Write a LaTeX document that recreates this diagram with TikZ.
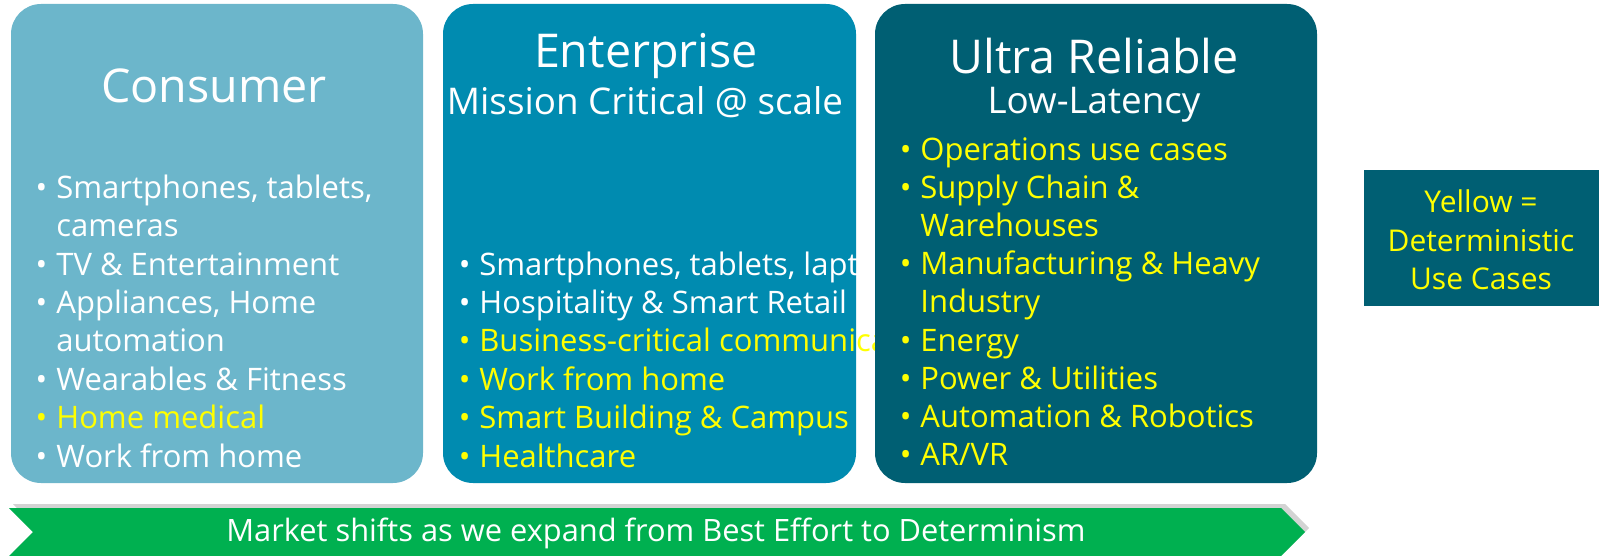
\documentclass[tikz,border=0pt]{standalone}
\usepackage{fontspec}
\setmainfont{Open Sans}
\usetikzlibrary{positioning}
\usetikzlibrary{shadows}

\definecolor{consumer}{HTML}{6CB6CB}
\definecolor{enterprise}{HTML}{008BB0}
\definecolor{urllc}{HTML}{005F73}
\definecolor{shiftgreen}{HTML}{00B050}
\definecolor{detyellow}{HTML}{FFFF00}

\tikzset{
  panel/.style={rounded corners=15pt},
  ttl/.style={anchor=base, inner sep=0pt, text=white, font=\fontsize{23.3}{28}\selectfont},
  sub/.style={anchor=base, inner sep=0pt, text=white, font=\fontsize{18.4}{22}\selectfont},
  item/.style={anchor=base west, inner sep=0pt, text=white, font=\fontsize{15.5}{19}\selectfont},
  det/.style={item, text=detyellow},
  note/.style={anchor=base, inner sep=0pt, text=detyellow, font=\fontsize{15}{19}\selectfont},
}
% bullet hanging left of the item text
\newcommand{\bul}{\llap{\textbullet\hspace{4.5pt}}}

\begin{document}
\begin{tikzpicture}[x=0.5pt, y=-0.5pt]
  \useasboundingbox (0,0) rectangle (1599,556);

  % Consumer column
  \fill[panel, consumer] (11,4) rectangle (423,483);
  \node[ttl] (consumer) at (214,103) {Consumer};
  \node[item] (c1) at (56,198) {\bul Smartphones, tablets,};
  \node[item] (c2) at (56,236) {cameras};
  \node[item] (c3) at (56,275) {\bul TV \& Entertainment};
  \node[item] (c4) at (56,313) {\bul Appliances, Home};
  \node[item] (c5) at (56,351) {automation};
  \node[item] (c6) at (56,390) {\bul Wearables \& Fitness};
  \node[det]  (c7) at (56,428) {\bul Home medical};
  \node[item] (c8) at (56,467) {\bul Work from home};

  % Enterprise column
  \fill[panel, enterprise] (443,4) rectangle (856,483);
  \node[ttl] (enterprise) at (646,68) {Enterprise};
  \node[sub] (mission) at (645,114) {Mission Critical @ scale};
  \node[item] (e1) at (479,275) {\bul Smartphones, tablets, laptops};
  \node[item] (e2) at (479,313) {\bul Hospitality \& Smart Retail};
  \node[det]  (e3) at (479,351) {\bul Business-critical communications};
  \node[det]  (e4) at (479,390) {\bul Work from home};
  \node[det]  (e5) at (479,428) {\bul Smart Building \& Campus};
  \node[det]  (e6) at (479,467) {\bul Healthcare};

  % Ultra reliable column (drawn last, covers the long lines)
  \fill[panel, urllc] (875,4) rectangle (1317,483);
  \node[ttl] (ultra) at (1094,74) {Ultra Reliable};
  \node[sub] (lowlat) at (1094,113) {Low-Latency};
  \node[det] (u1) at (920,160) {\bul Operations use cases};
  \node[det] (u2) at (920,198) {\bul Supply Chain \&};
  \node[det] (u3) at (920,236) {Warehouses};
  \node[det] (u4) at (920,274) {\bul Manufacturing \& Heavy};
  \node[det] (u5) at (920,312) {Industry};
  \node[det] (u6) at (920,351) {\bul Energy};
  \node[det] (u7) at (920,389) {\bul Power \& Utilities};
  \node[det] (u8) at (920,427) {\bul Automation \& Robotics};
  \node[det] (u9) at (920,465) {\bul AR/VR};

  % legend
  \fill[urllc] (1364,170) rectangle (1599,306);
  \node[note] (key1) at (1481,212) {Yellow =};
  \node[note] (key2) at (1481,251) {Deterministic};
  \node[note] (key3) at (1481,289) {Use Cases};

  % market shift arrow
  \fill[shiftgreen, drop shadow={shadow xshift=2pt, shadow yshift=2pt, opacity=.35}]
    (9,508) -- (1281,508) -- (1305,532) -- (1281,556) -- (9,556) -- (33,532) -- cycle;
  \node[anchor=base, inner sep=0pt, text=white, font=\fontsize{15.4}{18}\selectfont] (shift) at (656,541)
    {Market shifts as we expand from Best Effort to Determinism};
\end{tikzpicture}
\end{document}
